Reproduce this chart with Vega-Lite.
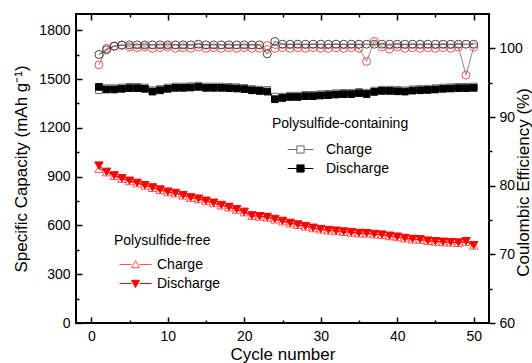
{
  "$schema": "https://vega.github.io/schema/vega-lite/v6.json",
  "width": 413,
  "height": 309,
  "autosize": {"type": "none"},
  "padding": {"left": 76, "top": 14, "right": 43, "bottom": 40},
  "background": "white",
  "config": {
    "view": {"stroke": "black", "strokeWidth": 2},
    "font": "Liberation Sans",
    "axis": {"labelFont": "Liberation Sans", "titleFont": "Liberation Sans", "labelFontSize": 14, "titleFontSize": 17, "titleFontWeight": "normal", "labelColor": "black", "titleColor": "black", "tickColor": "black", "domainColor": "black", "domainWidth": 2, "tickWidth": 1.5, "grid": false, "format": "d"},
    "legend": {"labelFont": "Liberation Sans", "titleFont": "Liberation Sans", "labelFontSize": 14, "titleFontSize": 14, "titleFontWeight": "normal", "labelColor": "black", "titleColor": "black", "rowPadding": 3}
  },
  "datasets": {
    "cc": [
      {"cycle":1,"charge":1432,"discharge":1452},{"cycle":2,"charge":1444,"discharge":1436},{"cycle":3,"charge":1444,"discharge":1436},{"cycle":4,"charge":1448,"discharge":1440},{"cycle":5,"charge":1452,"discharge":1444},
      {"cycle":6,"charge":1452,"discharge":1444},{"cycle":7,"charge":1448,"discharge":1440},{"cycle":8,"charge":1431,"discharge":1423},{"cycle":9,"charge":1439,"discharge":1431},{"cycle":10,"charge":1448,"discharge":1440},
      {"cycle":11,"charge":1454,"discharge":1446},{"cycle":12,"charge":1454,"discharge":1446},{"cycle":13,"charge":1456,"discharge":1448},{"cycle":14,"charge":1460,"discharge":1452},{"cycle":15,"charge":1454,"discharge":1446},
      {"cycle":16,"charge":1454,"discharge":1446},{"cycle":17,"charge":1454,"discharge":1446},{"cycle":18,"charge":1452,"discharge":1444},{"cycle":19,"charge":1450,"discharge":1442},{"cycle":20,"charge":1446,"discharge":1438},
      {"cycle":21,"charge":1439,"discharge":1431},{"cycle":22,"charge":1435,"discharge":1427},{"cycle":23,"charge":1433,"discharge":1423},{"cycle":24,"charge":1392,"discharge":1376},{"cycle":25,"charge":1392,"discharge":1384},
      {"cycle":26,"charge":1398,"discharge":1390},{"cycle":27,"charge":1398,"discharge":1390},{"cycle":28,"charge":1403,"discharge":1395},{"cycle":29,"charge":1403,"discharge":1395},{"cycle":30,"charge":1407,"discharge":1399},
      {"cycle":31,"charge":1409,"discharge":1401},{"cycle":32,"charge":1413,"discharge":1405},{"cycle":33,"charge":1415,"discharge":1407},{"cycle":34,"charge":1415,"discharge":1407},{"cycle":35,"charge":1421,"discharge":1413},
      {"cycle":36,"charge":1416,"discharge":1408},{"cycle":37,"charge":1429,"discharge":1421},{"cycle":38,"charge":1435,"discharge":1427},{"cycle":39,"charge":1435,"discharge":1427},{"cycle":40,"charge":1433,"discharge":1425},
      {"cycle":41,"charge":1431,"discharge":1423},{"cycle":42,"charge":1437,"discharge":1429},{"cycle":43,"charge":1439,"discharge":1431},{"cycle":44,"charge":1441,"discharge":1433},{"cycle":45,"charge":1444,"discharge":1436},
      {"cycle":46,"charge":1448,"discharge":1440},{"cycle":47,"charge":1450,"discharge":1442},{"cycle":48,"charge":1452,"discharge":1444},{"cycle":49,"charge":1452,"discharge":1444},{"cycle":50,"charge":1454,"discharge":1446}
    ],
    "cf": [
      {"cycle":1,"charge":948,"discharge":968},{"cycle":2,"charge":927,"discharge":930},{"cycle":3,"charge":905,"discharge":908},{"cycle":4,"charge":887,"discharge":890},{"cycle":5,"charge":872,"discharge":875},
      {"cycle":6,"charge":859,"discharge":862},{"cycle":7,"charge":845,"discharge":848},{"cycle":8,"charge":831,"discharge":834},{"cycle":9,"charge":818,"discharge":821},{"cycle":10,"charge":805,"discharge":808},
      {"cycle":11,"charge":797,"discharge":800},{"cycle":12,"charge":784,"discharge":787},{"cycle":13,"charge":770,"discharge":773},{"cycle":14,"charge":762,"discharge":765},{"cycle":15,"charge":749,"discharge":752},
      {"cycle":16,"charge":737,"discharge":740},{"cycle":17,"charge":723,"discharge":726},{"cycle":18,"charge":711,"discharge":714},{"cycle":19,"charge":697,"discharge":700},{"cycle":20,"charge":681,"discharge":684},
      {"cycle":21,"charge":659,"discharge":662},{"cycle":22,"charge":654,"discharge":657},{"cycle":23,"charge":649,"discharge":652},{"cycle":24,"charge":637,"discharge":640},{"cycle":25,"charge":625,"discharge":628},
      {"cycle":26,"charge":613,"discharge":616},{"cycle":27,"charge":603,"discharge":606},{"cycle":28,"charge":593,"discharge":596},{"cycle":29,"charge":583,"discharge":586},{"cycle":30,"charge":575,"discharge":578},
      {"cycle":31,"charge":569,"discharge":572},{"cycle":32,"charge":565,"discharge":568},{"cycle":33,"charge":560,"discharge":563},{"cycle":34,"charge":556,"discharge":559},{"cycle":35,"charge":551,"discharge":554},
      {"cycle":36,"charge":550,"discharge":553},{"cycle":37,"charge":545,"discharge":548},{"cycle":38,"charge":541,"discharge":544},{"cycle":39,"charge":534,"discharge":537},{"cycle":40,"charge":528,"discharge":531},
      {"cycle":41,"charge":520,"discharge":523},{"cycle":42,"charge":514,"discharge":517},{"cycle":43,"charge":512,"discharge":515},{"cycle":44,"charge":504,"discharge":507},{"cycle":45,"charge":500,"discharge":503},
      {"cycle":46,"charge":497,"discharge":500},{"cycle":47,"charge":495,"discharge":498},{"cycle":48,"charge":492,"discharge":495},{"cycle":49,"charge":500,"discharge":503},{"cycle":50,"charge":476,"discharge":479}
    ],
    "ce": [
      {"cycle":1,"containing":99.1,"free":97.6},{"cycle":2,"containing":99.8,"free":100.0},{"cycle":3,"containing":100.3,"free":100.35},{"cycle":4,"containing":100.45,"free":100.5},{"cycle":5,"containing":100.5,"free":100.2},
      {"cycle":6,"containing":100.5,"free":100.1},{"cycle":7,"containing":100.5,"free":100.2},{"cycle":8,"containing":100.5,"free":100.0},{"cycle":9,"containing":100.5,"free":100.1},{"cycle":10,"containing":100.5,"free":100.2},
      {"cycle":11,"containing":100.5,"free":100.0},{"cycle":12,"containing":100.5,"free":100.1},{"cycle":13,"containing":100.5,"free":100.0},{"cycle":14,"containing":100.6,"free":100.2},{"cycle":15,"containing":100.5,"free":100.0},
      {"cycle":16,"containing":100.5,"free":100.1},{"cycle":17,"containing":100.5,"free":100.0},{"cycle":18,"containing":100.5,"free":100.1},{"cycle":19,"containing":100.5,"free":100.0},{"cycle":20,"containing":100.5,"free":100.1},
      {"cycle":21,"containing":100.5,"free":100.0},{"cycle":22,"containing":100.5,"free":100.0},{"cycle":23,"containing":99.2,"free":100.4},{"cycle":24,"containing":101.0,"free":100.0},{"cycle":25,"containing":100.6,"free":100.1},
      {"cycle":26,"containing":100.6,"free":100.0},{"cycle":27,"containing":100.6,"free":100.1},{"cycle":28,"containing":100.6,"free":100.0},{"cycle":29,"containing":100.6,"free":100.1},{"cycle":30,"containing":100.6,"free":100.0},
      {"cycle":31,"containing":100.6,"free":100.0},{"cycle":32,"containing":100.6,"free":100.1},{"cycle":33,"containing":100.6,"free":100.0},{"cycle":34,"containing":100.6,"free":100.1},{"cycle":35,"containing":100.6,"free":100.0},
      {"cycle":36,"containing":100.6,"free":98.1},{"cycle":37,"containing":100.6,"free":101.0},{"cycle":38,"containing":100.6,"free":100.2},{"cycle":39,"containing":100.6,"free":99.9},{"cycle":40,"containing":100.6,"free":100.2},
      {"cycle":41,"containing":100.6,"free":100.0},{"cycle":42,"containing":100.6,"free":100.1},{"cycle":43,"containing":100.6,"free":100.0},{"cycle":44,"containing":100.6,"free":100.1},{"cycle":45,"containing":100.6,"free":100.0},
      {"cycle":46,"containing":100.6,"free":100.1},{"cycle":47,"containing":100.6,"free":100.0},{"cycle":48,"containing":100.6,"free":100.2},{"cycle":49,"containing":100.6,"free":96.1},{"cycle":50,"containing":100.6,"free":100.2}
    ]
  },
  "resolve": {
    "scale": {"x": "independent", "y": "independent", "shape": "independent", "fill": "independent", "stroke": "independent"},
    "axis": {"x": "independent", "y": "independent"},
    "legend": {"shape": "independent", "fill": "independent", "stroke": "independent"}
  },
  "encoding": {
    "x": {"field": "cycle", "type": "quantitative", "scale": {"domain": [-2, 52], "nice": false, "zero": false}, "axis": null}
  },
  "layer": [
    {
      "data": {"name": "cc"},
      "mark": {"type": "line", "color": "#777777", "strokeWidth": 1},
      "encoding": {
        "x": {"field": "cycle", "type": "quantitative", "scale": {"domain": [-2, 52], "nice": false, "zero": false},
              "axis": {"orient": "bottom", "values": [0, 10, 20, 30, 40, 50], "ticks": false, "labelPadding": 6, "domain": false, "title": "Cycle number", "titlePadding": 3}},
        "y": {"field": "charge", "type": "quantitative", "scale": {"domain": [0, 1900], "nice": false, "zero": false},
              "axis": {"orient": "left", "values": [0, 300, 600, 900, 1200, 1500, 1800], "ticks": false, "labelPadding": 6, "domain": false, "title": "Specific Capacity (mAh g⁻¹)", "titlePadding": 8}}
      }
    },
    {
      "data": {"name": "cc"},
      "mark": {"type": "point", "shape": "square", "size": 45, "filled": true, "fill": "white", "stroke": "#666666", "strokeWidth": 1, "opacity": 1},
      "encoding": {
        "x": {"field": "cycle", "type": "quantitative", "scale": {"domain": [-2, 52], "nice": false, "zero": false},
              "axis": {"orient": "top", "offset": -309, "values": [0, 10, 20, 30, 40, 50], "tickSize": 6, "labels": false, "domain": false, "title": null}},
        "y": {"field": "charge", "type": "quantitative", "scale": {"domain": [0, 1900], "nice": false, "zero": false},
              "axis": {"orient": "right", "offset": -413, "values": [0, 300, 600, 900, 1200, 1500, 1800], "tickSize": 6, "labels": false, "domain": false, "title": null}}
      }
    },
    {
      "data": {"name": "cc"},
      "mark": {"type": "line", "color": "black", "strokeWidth": 1},
      "encoding": {
        "x": {"field": "cycle", "type": "quantitative", "scale": {"domain": [-2, 52], "nice": false, "zero": false},
              "axis": {"orient": "top", "offset": -309, "values": [5, 15, 25, 35, 45], "tickSize": 3, "labels": false, "domain": false, "title": null}},
        "y": {"field": "discharge", "type": "quantitative", "scale": {"domain": [0, 1900], "nice": false, "zero": false},
              "axis": {"orient": "right", "offset": -413, "values": [150, 450, 750, 1050, 1350, 1650], "tickSize": 3, "labels": false, "domain": false, "title": null}}
      }
    },
    {
      "data": {"name": "cc"},
      "mark": {"type": "point", "shape": "square", "size": 45, "filled": true, "fill": "black", "stroke": "black", "strokeWidth": 1, "opacity": 1},
      "encoding": {
        "x": {"field": "cycle", "type": "quantitative", "scale": {"domain": [-2, 52], "nice": false, "zero": false},
              "axis": {"orient": "bottom", "offset": -309, "values": [0, 10, 20, 30, 40, 50], "tickSize": 6, "labels": false, "domain": false, "title": null}},
        "y": {"field": "discharge", "type": "quantitative", "scale": {"domain": [0, 1900], "nice": false, "zero": false}, "axis": null}
      }
    },
    {
      "data": {"name": "cf"},
      "mark": {"type": "line", "color": "#ff3030", "strokeWidth": 1},
      "encoding": {
        "x": {"field": "cycle", "type": "quantitative", "scale": {"domain": [-2, 52], "nice": false, "zero": false},
              "axis": {"orient": "bottom", "offset": -309, "values": [5, 15, 25, 35, 45], "tickSize": 3, "labels": false, "domain": false, "title": null}},
        "y": {"field": "charge", "type": "quantitative", "scale": {"domain": [0, 1900], "nice": false, "zero": false}, "axis": null}
      }
    },
    {
      "data": {"name": "cf"},
      "mark": {"type": "point", "shape": "triangle-up", "size": 70, "filled": false, "stroke": "#ff5555", "strokeWidth": 1, "opacity": 1},
      "encoding": {
        "y": {"field": "charge", "type": "quantitative", "scale": {"domain": [0, 1900], "nice": false, "zero": false}, "axis": null}
      }
    },
    {
      "data": {"name": "cf"},
      "mark": {"type": "line", "color": "#ff0000", "strokeWidth": 1},
      "encoding": {
        "y": {"field": "discharge", "type": "quantitative", "scale": {"domain": [0, 1900], "nice": false, "zero": false}, "axis": null}
      }
    },
    {
      "data": {"name": "cf"},
      "mark": {"type": "point", "shape": "triangle-down", "size": 70, "filled": true, "fill": "#ff0000", "stroke": "#ff0000", "strokeWidth": 1, "opacity": 1},
      "encoding": {
        "y": {"field": "discharge", "type": "quantitative", "scale": {"domain": [0, 1900], "nice": false, "zero": false}, "axis": null}
      }
    },
    {
      "data": {"name": "ce"},
      "mark": {"type": "line", "color": "#888888", "strokeWidth": 1},
      "encoding": {
        "y": {"field": "free", "type": "quantitative", "scale": {"domain": [60, 105], "nice": false, "zero": false},
              "axis": {"orient": "right", "values": [65, 75, 85, 95], "tickSize": 3, "labels": false, "domain": false, "title": null}}
      }
    },
    {
      "data": {"name": "ce"},
      "mark": {"type": "point", "shape": "circle", "size": 64, "filled": false, "stroke": "#ff4d4d", "strokeWidth": 1, "opacity": 1},
      "encoding": {
        "y": {"field": "free", "type": "quantitative", "scale": {"domain": [60, 105], "nice": false, "zero": false},
              "axis": {"orient": "right", "values": [60, 70, 80, 90, 100], "tickSize": 6, "labelPadding": 4, "domain": false, "title": "Coulombic Efficiency (%)", "titleAngle": 270, "titleFontSize": 17, "titleX": 39, "titleY": 168, "titleBaseline": "alphabetic", "titleAlign": "center"}}
      }
    },
    {
      "data": {"name": "ce"},
      "mark": {"type": "line", "color": "#555555", "strokeWidth": 1},
      "encoding": {
        "y": {"field": "containing", "type": "quantitative", "scale": {"domain": [60, 105], "nice": false, "zero": false}, "axis": null}
      }
    },
    {
      "data": {"name": "ce"},
      "mark": {"type": "point", "shape": "circle", "size": 64, "filled": false, "stroke": "#444444", "strokeWidth": 1, "opacity": 1},
      "encoding": {
        "y": {"field": "containing", "type": "quantitative", "scale": {"domain": [60, 105], "nice": false, "zero": false}, "axis": null}
      }
    },
    {
      "data": {"name": "cc"},
      "transform": [{"filter": "datum.cycle > 100"}],
      "mark": {"type": "point", "strokeWidth": 1, "opacity": 1},
      "encoding": {
        "y": {"field": "charge", "type": "quantitative", "scale": {"domain": [0, 1900], "nice": false, "zero": false}, "axis": null},
        "shape": {"field": "type", "type": "nominal", "scale": {"domain": ["Charge", "Discharge"], "range": ["M-1.6,0H-0.45M0.45,0H1.6M-0.45,-0.45H0.45V0.45H-0.45Z", "M-1.6,0H-0.45M0.45,0H1.6M-0.45,-0.45H0.45V0.45H-0.45Z"]},
                  "legend": {"title": "Polysulfide-containing", "orient": "none", "legendX": 196, "legendY": 103, "symbolSize": 256, "symbolOffset": 20, "labelOffset": 17, "titlePadding": 10, "symbolStrokeWidth": 1}},
        "fill": {"field": "type", "type": "nominal", "scale": {"domain": ["Charge", "Discharge"], "range": ["white", "black"]},
                 "legend": {"title": "Polysulfide-containing", "orient": "none", "legendX": 196, "legendY": 103, "symbolSize": 256, "symbolOffset": 20, "labelOffset": 17, "titlePadding": 10, "symbolStrokeWidth": 1}},
        "stroke": {"field": "type", "type": "nominal", "scale": {"domain": ["Charge", "Discharge"], "range": ["#666666", "black"]},
                   "legend": {"title": "Polysulfide-containing", "orient": "none", "legendX": 196, "legendY": 103, "symbolSize": 256, "symbolOffset": 20, "labelOffset": 17, "titlePadding": 10, "symbolStrokeWidth": 1}}
      }
    },
    {
      "data": {"name": "cf"},
      "transform": [{"filter": "datum.cycle > 100"}],
      "mark": {"type": "point", "strokeWidth": 1, "opacity": 1},
      "encoding": {
        "y": {"field": "charge", "type": "quantitative", "scale": {"domain": [0, 1900], "nice": false, "zero": false}, "axis": null},
        "shape": {"field": "type", "type": "nominal", "scale": {"domain": ["Charge", "Discharge"], "range": ["M-2,0H-0.5M0.5,0H2M0,-0.5L0.5,0.4H-0.5Z", "M-2,0H-0.5M0.5,0H2M0,0.5L0.5,-0.4H-0.5Z"]},
                  "legend": {"title": "Polysulfide-free", "orient": "none", "legendX": 38, "legendY": 220, "symbolSize": 256, "symbolOffset": 13, "labelOffset": 13, "titlePadding": 8, "symbolStrokeWidth": 1}},
        "fill": {"field": "type", "type": "nominal", "scale": {"domain": ["Charge", "Discharge"], "range": ["white", "#ff0000"]},
                 "legend": {"title": "Polysulfide-free", "orient": "none", "legendX": 38, "legendY": 220, "symbolSize": 256, "symbolOffset": 13, "labelOffset": 13, "titlePadding": 8, "symbolStrokeWidth": 1}},
        "stroke": {"field": "type", "type": "nominal", "scale": {"domain": ["Charge", "Discharge"], "range": ["#ff5555", "#ff0000"]},
                   "legend": {"title": "Polysulfide-free", "orient": "none", "legendX": 38, "legendY": 220, "symbolSize": 256, "symbolOffset": 13, "labelOffset": 13, "titlePadding": 8, "symbolStrokeWidth": 1}}
      }
    }
  ]
}
